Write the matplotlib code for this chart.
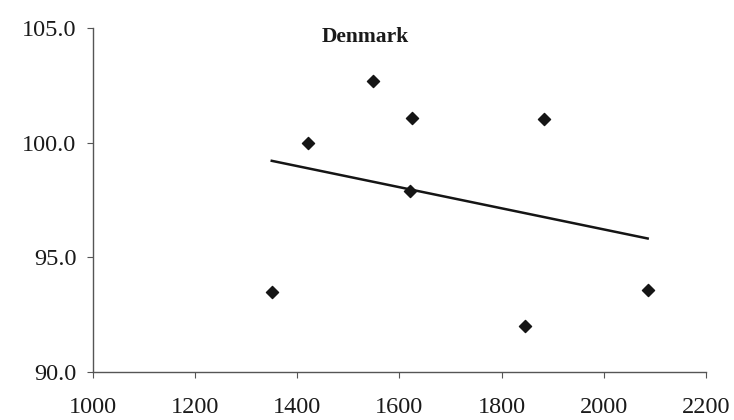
import numpy as np
import matplotlib.pyplot as plt

plt.rcParams['font.family'] = ['Liberation Serif', 'DejaVu Serif']

# Data
x_vals = [1350, 1421, 1548, 1620, 1625, 1845, 1883, 2086]
y_vals = [93.5, 100.0, 102.7, 97.9, 101.1, 92.0, 101.05, 93.6]

fig = plt.figure(figsize=(7.34, 4.2), dpi=100)
ax = fig.add_axes([0.1267, 0.114, 0.835, 0.819])

ax.scatter(x_vals, y_vals, marker="D", s=38, color="#151515", zorder=3)

# linear trend line over the data range
coef = np.polyfit(x_vals, y_vals, 1)
xt = np.array([min(x_vals), max(x_vals)])
ax.plot(xt, np.polyval(coef, xt), color="#151515", lw=1.8)

ax.set_xlim(1000, 2200)
ax.set_ylim(90, 105)
ax.set_xticks(np.arange(1000, 2201, 200))
ax.set_yticks([90, 95, 100, 105])
ax.set_yticklabels(["90.0", "95.0", "100.0", "105.0"])

for s in ["top", "right"]:
    ax.spines[s].set_visible(False)
for s in ["left", "bottom"]:
    ax.spines[s].set_color("#555555")
    ax.spines[s].set_linewidth(1.0)

ax.tick_params(axis="both", colors="#555555", length=4, width=0.8,
               labelsize=17.5, labelcolor="#1a1a1a")
ax.tick_params(axis="y", pad=8)
ax.tick_params(axis="x", pad=14)

ax.text(0.444, 0.975, "Denmark", transform=ax.transAxes, fontsize=15.5,
        fontweight="bold", color="#1a1a1a", ha="center", va="center")

fig.savefig("out.png", dpi=100)
